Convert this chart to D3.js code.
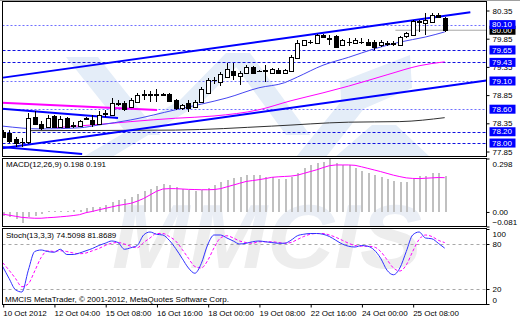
<!DOCTYPE html>
<html>
<head>
<meta charset="utf-8">
<script src="https://cdn.jsdelivr.net/npm/d3@7/dist/d3.min.js"></script>
<style>
  body { margin: 0; background: #fff; }
  svg { display: block; font-family: "Liberation Sans", Arial, sans-serif; }
</style>
</head>
<body>
<svg class="chart" width="520" height="320"></svg>
<script>
// USDJPY-like H4 candles, index 0 = 10 Oct 2012
const opens = [78.20, 78.18, 78.07, 78.01, 78.01, 78.46, 78.34, 78.29, 78.48, 78.29,
  78.44, 78.32, 78.30, 78.44, 78.41, 78.34, 78.52, 78.50, 78.71, 78.71,
  78.64, 78.73, 78.86, 78.87, 78.86, 78.87, 78.87, 78.76, 78.62, 78.71,
  78.64, 78.73, 78.89, 79.11, 79.08, 79.17, 79.27, 79.19, 79.24, 79.35,
  79.28, 79.28, 79.25, 79.30, 79.25, 79.27, 79.50, 79.74, 79.80, 79.77,
  79.92, 79.86, 79.89, 79.74, 79.80, 79.77, 79.80, 79.80, 79.80, 79.74,
  79.77, 79.76, 79.74, 79.89, 79.92, 80.15, 80.13, 80.15, 80.27, 80.21]
const highs = [78.23, 78.23, 78.11, 78.09, 78.53, 78.56, 78.39, 78.50, 78.50, 78.48,
  78.46, 78.37, 78.41, 78.46, 78.50, 78.57, 78.59, 78.79, 78.76, 78.75,
  78.80, 78.89, 78.94, 78.92, 78.96, 78.89, 78.89, 78.78, 78.69, 78.76,
  78.76, 78.99, 79.15, 79.17, 79.26, 79.42, 79.42, 79.28, 79.38, 79.37,
  79.30, 79.38, 79.33, 79.33, 79.31, 79.56, 79.83, 79.83, 79.83, 79.93,
  79.93, 79.92, 79.92, 79.85, 79.86, 79.86, 79.86, 79.85, 79.83, 79.83,
  79.81, 79.81, 79.90, 79.97, 80.18, 80.18, 80.31, 80.31, 80.31, 80.24]
const lows = [78.09, 78.00, 77.93, 77.93, 77.98, 78.32, 78.23, 78.28, 78.27, 78.28,
  78.27, 78.27, 78.28, 78.41, 78.28, 78.32, 78.46, 78.48, 78.66, 78.57,
  78.62, 78.73, 78.76, 78.73, 78.73, 78.85, 78.73, 78.59, 78.59, 78.55,
  78.62, 78.71, 78.87, 79.05, 79.01, 79.15, 79.12, 79.03, 79.22, 79.22,
  79.26, 79.09, 79.22, 79.22, 79.22, 79.26, 79.49, 79.72, 79.76, 79.76,
  79.86, 79.74, 79.69, 79.72, 79.72, 79.76, 79.76, 79.72, 79.65, 79.70,
  79.72, 79.72, 79.72, 79.86, 79.90, 79.97, 79.92, 80.15, 80.21, 79.97]
const closes = [78.11, 78.04, 78.00, 78.02, 78.44, 78.34, 78.27, 78.44, 78.29, 78.43,
  78.29, 78.31, 78.39, 78.43, 78.34, 78.50, 78.53, 78.71, 78.70, 78.60,
  78.76, 78.85, 78.87, 78.86, 78.87, 78.86, 78.75, 78.62, 78.67, 78.62,
  78.73, 78.96, 79.12, 79.12, 79.22, 79.31, 79.21, 79.25, 79.35, 79.25,
  79.27, 79.29, 79.31, 79.25, 79.30, 79.53, 79.77, 79.82, 79.79, 79.92,
  79.88, 79.85, 79.71, 79.82, 79.79, 79.83, 79.79, 79.74, 79.71, 79.80,
  79.76, 79.77, 79.88, 79.95, 80.17, 80.16, 80.18, 80.27, 80.23, 80.00]

// moving averages, read at some candles
const maBlueIdx = [0, 6, 12, 15, 20, 27, 31, 35, 40, 44, 46, 50, 54, 58, 62, 66, 69]
const maBlueVal = [78.30, 78.25, 78.27, 78.32, 78.41, 78.59, 78.69, 78.80, 78.98, 79.07, 79.17, 79.38, 79.52, 79.67, 79.79, 79.88, 79.97]
const maPinkIdx = [8, 15, 20, 27, 33, 40, 45, 50, 54, 60, 65, 69]
const maPinkVal = [78.27, 78.33, 78.38, 78.44, 78.48, 78.59, 78.75, 78.89, 79.01, 79.21, 79.37, 79.44]
const maBlackIdx = [4, 27, 42, 54, 62, 69]
const maBlackVal = [78.22, 78.23, 78.30, 78.37, 78.38, 78.45]

// trend lines [candle index, price]
const channelTop = [[0.05, 79.16], [73, 80.32]]
const channelBottom = [[-0.5, 77.90], [75.5, 79.11]]
const oldTop = [[-0.5, 78.715], [24.1, 78.586]]
const oldMid = [[-0.5, 78.612], [18, 78.444]]
const oldBottom = [[-0.5, 77.935], [12.4, 77.806]]
const bidLine = [[61.3, 80.00], [75.5, 80.00]]

const levels = [78.00, 78.20, 78.60, 79.10, 79.43, 79.65, 80.10]
const lightLevels = [78.60, 79.10, 80.10]
const priceTicks = [80.35, 79.85, 79.35, 78.85, 78.35, 77.85]
const lastPrice = 80.00

const macdMain = [-0.02, -0.03, -0.04, -0.06, -0.03, -0.02, -0.01, 0.003, 0.005, 0.005,
  0.008, 0.01, 0.012, 0.02, 0.025, 0.03, 0.04, 0.055, 0.065, 0.075,
  0.085, 0.10, 0.115, 0.13, 0.145, 0.155, 0.15, 0.14, 0.13, 0.12,
  0.115, 0.12, 0.135, 0.15, 0.165, 0.18, 0.19, 0.195, 0.205, 0.205,
  0.205, 0.197, 0.197, 0.182, 0.182, 0.193, 0.219, 0.243, 0.262, 0.271,
  0.281, 0.298, 0.271, 0.262, 0.262, 0.243, 0.230, 0.219, 0.206, 0.193,
  0.182, 0.174, 0.169, 0.169, 0.182, 0.201, 0.201, 0.216, 0.216, 0.198]
const macdSignal = [-0.012, -0.018, -0.024, -0.030, -0.033, -0.035, -0.035, -0.032, -0.030, -0.027,
  -0.024, -0.020, -0.015, -0.004, 0.003, 0.012, 0.020, 0.028, 0.036, 0.042,
  0.048, 0.060, 0.075, 0.095, 0.115, 0.128, 0.130, 0.130, 0.128, 0.126,
  0.125, 0.124, 0.124, 0.125, 0.130, 0.140, 0.150, 0.160, 0.170, 0.175,
  0.180, 0.186, 0.193, 0.196, 0.198, 0.200, 0.205, 0.215, 0.225, 0.235,
  0.247, 0.258, 0.262, 0.262, 0.262, 0.260, 0.252, 0.243, 0.234, 0.225,
  0.215, 0.205, 0.197, 0.190, 0.187, 0.186, 0.188, 0.190, 0.192, 0.191]
const macdTicks = [0.298, 0, -0.081]

const stochMain = [50, 34, 19, 16, 45, 70, 72, 70, 69, 73,
  66, 66, 68, 71, 74, 78, 81, 84, 82, 73,
  75, 78, 92, 96, 93, 92, 85, 74, 61, 48,
  41, 54, 79, 92, 92, 88, 84, 80, 81, 83,
  84, 83, 82, 81, 81, 85, 91, 93, 94, 94,
  93, 90, 85, 80, 77, 76, 78, 77, 72, 61,
  45, 39, 48, 70, 92, 96, 88, 87, 81, 74.5]
const stochSignal = [55, 45, 34, 23, 27, 44, 62, 71, 70, 71,
  70, 68, 67, 68, 71, 74, 78, 81, 82, 80,
  77, 75, 82, 88, 94, 94, 90, 84, 73, 61,
  50, 48, 58, 75, 88, 91, 88, 84, 82, 81,
  83, 83, 83, 82, 81, 82, 86, 90, 93, 94,
  94, 92, 89, 85, 81, 78, 77, 77, 76, 70,
  59, 48, 44, 52, 70, 86, 92, 90, 85, 81.9]
const stochTicks = [100, 80, 20, 0]
const stochLevels = [80, 20]

const timeIdx = [0, 8, 16, 24, 32, 40, 48, 56, 64]
const timeLabels = ["10 Oct 2012", "12 Oct 04:00", "15 Oct 08:00", "16 Oct 16:00", "18 Oct 00:00",
  "19 Oct 08:00", "22 Oct 16:00", "24 Oct 00:00", "25 Oct 08:00"]

const left = 2.5, right = 486.5
const mainTop = 1.5, mainBot = 156.5
const macdTop = 158.5, macdBot = 226.5
const stTop = 228.5, stBot = 304.5

const svg = d3.select('svg.chart')

const x = d3.scaleLinear().domain([0, 69]).range([2.7, 444.7])
const yP = d3.scaleLinear().domain([77.85, 80.35]).range([151.5, 10.5])
const yM = d3.scaleLinear().domain([-0.081, 0.298]).range([macdBot, macdTop])
const yS = d3.scaleLinear().domain([0, 100]).range([stBot - 0.5, stTop + 0.5])

const defs = svg.append('defs')
function clip(id, y0, y1) {
    defs.append('clipPath').attr('id', id)
        .append('rect').attr('x', left).attr('y', y0).attr('width', right - left).attr('height', y1 - y0)
}
clip('cMain', mainTop, mainBot)
clip('cMacd', macdTop, macdBot)
clip('cStoch', stTop, stBot)

// watermark logo (background only)
const wm = svg.append('g').attr('clip-path', 'url(#cMain)').attr('fill', '#e4edf8')
const logo = [
    [[66, 57], [98, 57], [160, 135], [128, 135]],
    [[180, 100], [226, 53], [250, 53], [204, 100]],
    [[226, 53], [250, 53], [310, 135], [286, 135]],
    [[83, 157], [180, 100], [206, 100], [112, 157]],
    [[296, 157], [356, 83], [384, 83], [326, 157]],
    [[340, 82], [410, 55], [412, 88], [342, 118]],
    [[335, 157], [372, 125], [396, 125], [430, 157]]
]
wm.selectAll('polygon').data(logo).join('polygon')
    .attr('points', d => d.map(p => p.join(',')).join(' '))

const mark = (clipId, fill) => svg.append('g').attr('clip-path', `url(#${clipId})`)
    .append('text')
    .attr('x', 112).attr('y', 268)
    .attr('textLength', 310).attr('lengthAdjust', 'spacingAndGlyphs')
    .attr('font-size', 90).attr('font-weight', 'bold').attr('font-style', 'italic')
    .attr('fill', fill)
    .text('MMCIS')
mark('cStoch', '#ededed')
mark('cMacd', '#eaeef5')

// ---------- main panel ----------
const main = svg.append('g').attr('clip-path', 'url(#cMain)')

main.selectAll('line.level').data(levels).join('line')
    .attr('class', 'level')
    .attr('x1', left).attr('x2', right)
    .attr('y1', d => Math.round(yP(d)) + 0.5).attr('y2', d => Math.round(yP(d)) + 0.5)
    .attr('stroke', d => lightLevels.includes(d) ? '#6f6fff' : '#1010e0')
    .attr('stroke-dasharray', d => lightLevels.includes(d) ? '2,2' : '3,2')

const seg = d3.line().x(d => x(d[0])).y(d => yP(d[1]))

main.append('path').datum(bidLine).attr('d', seg).attr('stroke', '#a8a8a8').attr('fill', 'none')

const maLine = (idx, val) => d3.line().curve(d3.curveMonotoneX)
    .x((d, k) => x(idx[k])).y(d => yP(d))(val)

main.append('path').attr('d', maLine(maBlackIdx, maBlackVal))
    .attr('stroke', '#303030').attr('fill', 'none')
main.append('path').attr('d', maLine(maPinkIdx, maPinkVal))
    .attr('stroke', '#ff00ff').attr('fill', 'none')
main.append('path').attr('d', maLine(maBlueIdx, maBlueVal))
    .attr('stroke', '#4646f0').attr('fill', 'none')

main.append('path').datum(oldTop).attr('d', seg).attr('stroke', '#ff00ff').attr('stroke-width', 2).attr('fill', 'none')
;[channelTop, channelBottom, oldMid, oldBottom].forEach(t => {
    main.append('path').datum(t).attr('d', seg)
        .attr('stroke', '#0000ff').attr('stroke-width', 2).attr('fill', 'none')
})

// candles
const candles = main.append('g').attr('shape-rendering', 'crispEdges')
    .selectAll('g').data(d3.range(opens.length)).join('g')

candles.append('line')
    .attr('x1', i => Math.round(x(i)) + 0.5).attr('x2', i => Math.round(x(i)) + 0.5)
    .attr('y1', i => yP(highs[i])).attr('y2', i => yP(lows[i]))
    .attr('stroke', '#000')

candles.append('rect')
    .attr('x', i => Math.round(x(i)) - 1.5)
    .attr('width', 4)
    .attr('y', i => Math.round(yP(Math.max(opens[i], closes[i]))) + 0.5)
    .attr('height', i => Math.max(0.01, Math.round(yP(Math.min(opens[i], closes[i]))) - Math.round(yP(Math.max(opens[i], closes[i])))))
    .attr('fill', i => closes[i] > opens[i] ? '#fff' : '#000')
    .attr('stroke', '#000')

// price axis
const pAxis = svg.append('g').attr('transform', `translate(${right},0)`)
    .call(d3.axisRight(yP).tickValues(priceTicks).tickSize(3).tickPadding(3).tickFormat(d3.format('.2f')))
pAxis.select('.domain').remove()

const tagAt = (v, bg) => {
    const g = svg.append('g').attr('transform', `translate(${right + 3},${yP(v)})`)
    g.append('rect').attr('x', 0).attr('y', -4.5).attr('width', 26).attr('height', 9).attr('fill', bg)
    g.append('text').attr('x', 2.5).attr('dy', '0.34em').attr('fill', '#fff').attr('font-size', 8).text(d3.format('.2f')(v))
}
tagAt(lastPrice, '#000')
levels.slice().reverse().forEach(v => tagAt(v, '#0000ff'))

// ---------- MACD ----------
const macd = svg.append('g').attr('clip-path', 'url(#cMacd)')
macd.append('g').attr('shape-rendering', 'crispEdges')
    .selectAll('rect').data(macdMain).join('rect')
    .attr('x', (d, i) => Math.round(x(i)) - 0.5)
    .attr('width', 2)
    .attr('y', d => Math.min(yM(0), yM(d)))
    .attr('height', d => Math.abs(yM(d) - yM(0)))
    .attr('fill', '#c0c0c0')
macd.append('path').datum(macdSignal)
    .attr('d', d3.line().x((d, i) => x(i)).y(d => yM(d)))
    .attr('stroke', '#ff00ff').attr('fill', 'none')

const mAxis = svg.append('g').attr('transform', `translate(${right},0)`)
    .call(d3.axisRight(yM).tickValues(macdTicks).tickSize(3).tickPadding(3)
        .tickFormat(d => d === 0 ? '0.00' : d3.format('.3f')(d)))
mAxis.select('.domain').remove()
mAxis.selectAll('.tick text').attr('dy', d => d === macdTicks[0] ? '0.95em' : d === macdTicks[2] ? '-0.3em' : '0.32em')

svg.append('text').attr('x', 6).attr('y', 167).attr('font-size', 8).text('MACD(12,26,9) 0.198 0.191')

// ---------- Stochastic ----------
const st = svg.append('g').attr('clip-path', 'url(#cStoch)')
st.selectAll('line.lv').data(stochLevels).join('line')
    .attr('class', 'lv')
    .attr('x1', left).attr('x2', right)
    .attr('y1', d => Math.round(yS(d)) + 0.5).attr('y2', d => Math.round(yS(d)) + 0.5)
    .attr('stroke', '#a8a8a8').attr('stroke-dasharray', '3,3')
st.append('path').datum(stochSignal)
    .attr('d', d3.line().curve(d3.curveMonotoneX).x((d, i) => x(i)).y(d => yS(d)))
    .attr('stroke', '#ff00ff').attr('stroke-dasharray', '3,2').attr('fill', 'none')
st.append('path').datum(stochMain)
    .attr('d', d3.line().curve(d3.curveMonotoneX).x((d, i) => x(i)).y(d => yS(d)))
    .attr('stroke', '#3030ff').attr('fill', 'none')

const sAxis = svg.append('g').attr('transform', `translate(${right},0)`)
    .call(d3.axisRight(yS).tickValues(stochTicks).tickSize(3).tickPadding(3))
sAxis.select('.domain').remove()
sAxis.selectAll('.tick text').attr('dy', d => d === 100 ? '0.95em' : d === 0 ? '-0.2em' : '0.32em')

svg.append('text').attr('x', 6).attr('y', 238).attr('font-size', 8).text('Stoch(13,3,3) 74.5098 81.8689')
svg.append('text').attr('x', 5).attr('y', 302).attr('font-size', 8)
    .text('MMCIS MetaTrader, \u00A9 2001-2012, MetaQuotes Software Corp.')

// time axis
const tAxis = svg.append('g').attr('transform', `translate(0,${stBot})`)
    .call(d3.axisBottom(x).tickValues(timeIdx).tickSize(3).tickPadding(3)
        .tickFormat((d, k) => timeLabels[k]))
tAxis.select('.domain').remove()
tAxis.selectAll('.tick line').attr('transform', 'translate(0.5,0)')
tAxis.selectAll('.tick text').attr('text-anchor', 'start')

svg.selectAll('.tick text').attr('font-size', 8).attr('font-family', '"Liberation Sans", Arial, sans-serif').attr('fill', '#000')
svg.selectAll('.tick line').attr('stroke', '#000')

// panel frames
const frames = [[mainTop, mainBot], [macdTop, macdBot], [stTop, stBot]]
svg.append('g').selectAll('rect').data(frames).join('rect')
    .attr('x', left).attr('y', d => d[0])
    .attr('width', right - left).attr('height', d => d[1] - d[0])
    .attr('fill', 'none').attr('stroke', '#000')
svg.append('line').attr('x1', 0).attr('x2', 520).attr('y1', 0.5).attr('y2', 0.5).attr('stroke', '#a0a0a0')
</script>
</body>
</html>
